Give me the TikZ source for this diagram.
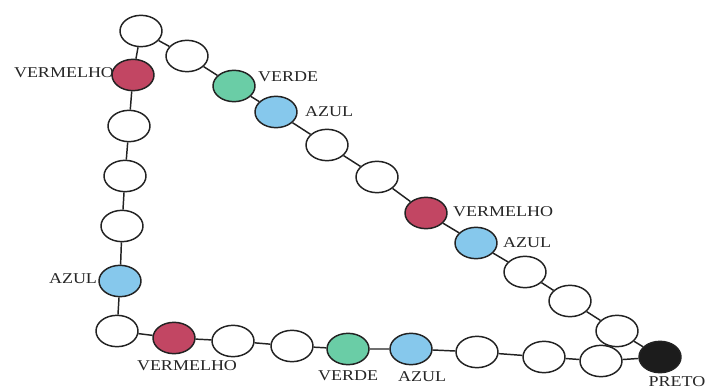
\documentclass[tikz,border=0pt]{standalone}
\usepackage{fontspec}
\setmainfont{Liberation Serif}
\usetikzlibrary{shapes.geometric}
\definecolor{cred}{HTML}{C24663}
\definecolor{cgreen}{HTML}{6ACDA6}
\definecolor{cblue}{HTML}{86C8EC}
\definecolor{cblack}{HTML}{1C1C1C}
\definecolor{cline}{HTML}{222222}
\begin{document}
\begin{tikzpicture}[x=0.75pt,y=-0.75pt,
  bead/.style={ellipse,draw=cline,line width=1.1pt,fill=white,minimum width=31.5pt,minimum height=23.5pt,inner sep=0pt},
  rb/.style={bead,fill=cred},
  gb/.style={bead,fill=cgreen},
  bb/.style={bead,fill=cblue},
  kb/.style={bead,fill=cblack},
  lbl/.style={inner sep=0pt,font=\fontsize{11.25pt}{12pt}\selectfont,xscale=1.2,text=black!85},
  link/.style={draw=cline,line width=1.1pt}]
\useasboundingbox (0,0) rectangle (710,392);
\fill[white] (0,0) rectangle (710,392);
% diagonal
\node[bead] (t1) at (141,31) {};
\node[bead] (t2) at (187,56) {};
\node[gb] (g1) at (234,86) {};
\node[bb] (b1) at (276,112) {};
\node[bead] (w3) at (327,145) {};
\node[bead] (w4) at (377,177) {};
\node[rb] (r2) at (426,213) {};
\node[bb] (b2) at (476,243) {};
\node[bead] (w5) at (525,272) {};
\node[bead] (w6) at (570,301) {};
\node[bead] (w7) at (617,331) {};
\node[kb] (k) at (660,357) {};
% left column
\node[rb] (r1) at (133,75) {};
\node[bead] (l1) at (129,126) {};
\node[bead] (l2) at (125,176) {};
\node[bead] (l3) at (122,226) {};
\node[bb] (b3) at (120,281) {};
\node[bead] (l4) at (117,331) {};
% bottom row
\node[rb] (r3) at (174,338) {};
\node[bead] (d1) at (233,341) {};
\node[bead] (d2) at (292,346) {};
\node[gb] (g2) at (348,349) {};
\node[bb] (b4) at (411,349) {};
\node[bead] (d3) at (477,352) {};
\node[bead] (d4) at (544,357) {};
\node[bead] (d5) at (601,361) {};
% links
\path[link] (t1)--(t2) (t2)--(g1) (g1)--(b1) (b1)--(w3) (w3)--(w4) (w4)--(r2)
  (r2)--(b2) (b2)--(w5) (w5)--(w6) (w6)--(w7) (w7)--(k);
\path[link] (t1)--(r1) (r1)--(l1) (l1)--(l2) (l2)--(l3) (l3)--(b3) (b3)--(l4);
\path[link] (l4)--(r3) (r3)--(d1) (d1)--(d2) (d2)--(g2) (g2)--(b4) (b4)--(d3)
  (d3)--(d4) (d4)--(d5) (d5)--(k);
% labels
\node[lbl] (L1) at (64,73) {VERMELHO};
\node[lbl] (L2) at (288,77) {VERDE};
\node[lbl] (L3) at (329,112) {AZUL};
\node[lbl] (L4) at (503,212) {VERMELHO};
\node[lbl] (L5) at (527,243) {AZUL};
\node[lbl] (L6) at (73,279) {AZUL};
\node[lbl] (L7) at (187,366) {VERMELHO};
\node[lbl] (L8) at (348,376) {VERDE};
\node[lbl] (L9) at (422,377) {AZUL};
\node[lbl] (L10) at (677,382) {PRETO};
\end{tikzpicture}
\end{document}
